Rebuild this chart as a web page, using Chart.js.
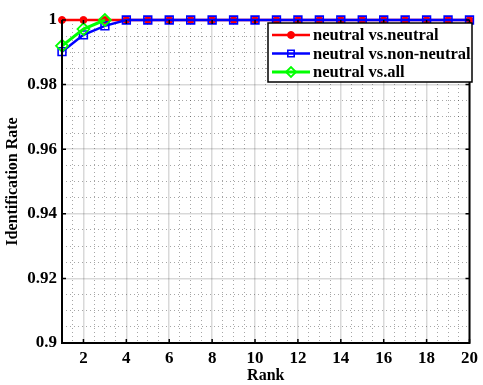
<!DOCTYPE html>
<html>
<head>
<meta charset="utf-8">
<script src="https://cdn.jsdelivr.net/npm/chart.js@4.4.0/dist/chart.umd.min.js"></script>
<style>
  html, body { margin: 0; padding: 0; background: #fff; }
  canvas { display: block; }
</style>
</head>
<body>
<canvas id="chart" width="483" height="385"></canvas>
<script>
// rank axis
const ranks = [1, 2, 3, 4, 5, 6, 7, 8, 9, 10, 11, 12, 13, 14, 15, 16, 17, 18, 19, 20];
const xTicks = [2, 4, 6, 8, 10, 12, 14, 16, 18, 20];
const yTicks = [0.9, 0.92, 0.94, 0.96, 0.98, 1];
const yTickLabels = ['0.9', '0.92', '0.94', '0.96', '0.98', '1'];

// identification rates
const neutralVsNeutral = [1, 1, 1, 1, 1, 1, 1, 1, 1, 1, 1, 1, 1, 1, 1, 1, 1, 1, 1, 1];
const neutralVsNonNeutral = [0.9902, 0.9954, 0.9982, 1, 1, 1, 1, 1, 1, 1, 1, 1, 1, 1, 1, 1, 1, 1, 1, 1];
const neutralVsAll = [0.9920, 0.9972, 1.0];

const seriesLabels = ['neutral vs.neutral', 'neutral vs.non-neutral', 'neutral vs.all'];

const FONT = "'Liberation Serif', 'Times New Roman', serif";

function toPoints(vals) {
    return vals.map((v, i) => ({ x: ranks[i], y: v }));
}

// minor grid positions (MATLAB style, every 0.5 rank / 0.005 rate)
function minorX() {
    let out = [];
    for (let i = 2; i <= 40; i++) {
        let v = i / 2;
        if (xTicks.indexOf(v) < 0) out.push(v);
    }
    return out;
}
function minorY() {
    let out = [];
    for (let i = 181; i < 200; i++) {
        let v = i / 200;
        if (i % 4 != 0) out.push(v);
    }
    return out;
}

// box, inward ticks and the legend inside the plot
const boxPlugin = {
    id: 'boxPlugin',
    afterDraw(chart) {
        const ctx = chart.ctx;
        const a = chart.chartArea;
        const xs = chart.scales.x;
        const ys = chart.scales.y;
        ctx.save();
        ctx.strokeStyle = '#000';
        ctx.lineWidth = 1.5;
        for (let t of xTicks) {
            let px = xs.getPixelForValue(t);
            ctx.beginPath();
            ctx.moveTo(px, a.bottom); ctx.lineTo(px, a.bottom - 4);
            ctx.moveTo(px, a.top); ctx.lineTo(px, a.top + 4);
            ctx.stroke();
        }
        for (let t of yTicks) {
            let py = ys.getPixelForValue(t);
            ctx.beginPath();
            ctx.moveTo(a.left, py); ctx.lineTo(a.left + 4, py);
            ctx.moveTo(a.right, py); ctx.lineTo(a.right - 4, py);
            ctx.stroke();
        }
        ctx.lineWidth = 2;
        ctx.beginPath();
        ctx.moveTo(a.left, a.top);
        ctx.lineTo(a.left, a.bottom);
        ctx.lineTo(a.right, a.bottom);
        ctx.lineTo(a.right, a.top + 2);
        ctx.stroke();

        // legend
        const lx = 268, ly = 23, lw = 204, lh = 59;
        ctx.fillStyle = '#fff';
        ctx.fillRect(lx, ly, lw, lh);
        ctx.lineWidth = 1.5;
        ctx.strokeStyle = '#000';
        ctx.strokeRect(lx, ly, lw, lh);
        ctx.font = 'bold 16.5px ' + FONT;
        ctx.textBaseline = 'middle';
        chart.data.datasets.forEach((ds, i) => {
            let cy = ly + 12 + i * 18.5;
            ctx.strokeStyle = ds.borderColor;
            ctx.lineWidth = ds.borderWidth;
            ctx.beginPath();
            ctx.moveTo(lx + 4, cy);
            ctx.lineTo(lx + 42, cy);
            ctx.stroke();
            ctx.fillStyle = ds.pointBackgroundColor;
            ctx.strokeStyle = ds.borderColor;
            ctx.lineWidth = ds.pointBorderWidth;
            Chart.helpers.drawPoint(ctx, {
                pointStyle: ds.pointStyle,
                radius: ds.pointStyle == 'circle' ? ds.pointRadius : ds.pointRadius - 1,
                borderWidth: ds.pointBorderWidth,
                rotation: 0
            }, lx + 23, cy);
            ctx.fillStyle = '#000';
            ctx.fillText(ds.label, lx + 45, cy + 1);
        });
        ctx.restore();
    }
};

const minorXTicks = minorX();
const minorYTicks = minorY();

const config = {
    type: 'line',
    data: {
        datasets: [
            {
                label: seriesLabels[0],
                data: toPoints(neutralVsNeutral),
                borderColor: '#ff0000',
                backgroundColor: '#ff0000',
                pointBackgroundColor: '#ff0000',
                pointStyle: 'circle',
                pointRadius: 3.5,
                pointBorderWidth: 1,
                borderWidth: 2.5,
                order: 2
            },
            {
                label: seriesLabels[1],
                data: toPoints(neutralVsNonNeutral),
                borderColor: '#0000ff',
                backgroundColor: 'rgba(0,0,0,0)',
                pointBackgroundColor: 'rgba(0,0,0,0)',
                pointStyle: 'rect',
                pointRadius: 5.5,
                pointBorderWidth: 1.6,
                borderWidth: 2.5,
                order: 1
            },
            {
                label: seriesLabels[2],
                data: toPoints(neutralVsAll),
                borderColor: '#00ff00',
                backgroundColor: 'rgba(0,0,0,0)',
                pointBackgroundColor: 'rgba(0,0,0,0)',
                pointStyle: 'rectRot',
                pointRadius: 6,
                pointBorderWidth: 1.8,
                borderWidth: 3,
                order: 0
            }
        ]
    },
    options: {
        responsive: false,
        animation: false,
        clip: false,
        layout: { padding: { left: 0, top: 20, right: 10, bottom: 0 } },
        plugins: {
            legend: { display: false },
            tooltip: { enabled: false }
        },
        elements: { line: { tension: 0 } },
        scales: {
            x2: {
                type: 'linear', position: 'bottom', min: 1, max: 20,
                afterBuildTicks: s => { s.ticks = minorXTicks.map(v => ({ value: v })); },
                afterFit: s => { s.height = 0; },
                ticks: { display: false },
                grid: { color: 'rgba(0,0,0,0.35)', lineWidth: 1, drawTicks: false },
                border: { display: false, dash: [1, 3] }
            },
            y2: {
                type: 'linear', position: 'left', min: 0.9, max: 1,
                afterBuildTicks: s => { s.ticks = minorYTicks.map(v => ({ value: v })); },
                afterFit: s => { s.width = 0; },
                ticks: { display: false },
                grid: { color: 'rgba(0,0,0,0.35)', lineWidth: 1, drawTicks: false },
                border: { display: false, dash: [1, 3] }
            },
            x: {
                type: 'linear', position: 'bottom', min: 1, max: 20,
                afterBuildTicks: s => { s.ticks = xTicks.map(v => ({ value: v })); },
                afterFit: s => { s.height = 42; },
                ticks: {
                    color: '#000', padding: 5, maxRotation: 0,
                    font: { family: FONT, size: 17, weight: 'bold' }
                },
                grid: { color: 'rgba(0,0,0,0.15)', lineWidth: 1.5, drawTicks: false },
                border: { display: false },
                title: {
                    display: true, text: 'Rank', color: '#000', padding: 0,
                    font: { family: FONT, size: 16, weight: 'bold' }
                }
            },
            y: {
                type: 'linear', position: 'left', min: 0.9, max: 1,
                afterBuildTicks: s => { s.ticks = yTicks.map(v => ({ value: v })); },
                afterFit: s => { s.width = 62; },
                ticks: {
                    color: '#000', padding: 5,
                    font: { family: FONT, size: 17, weight: 'bold' },
                    callback: (v) => yTickLabels[yTicks.indexOf(v)]
                },
                grid: { color: 'rgba(0,0,0,0.15)', lineWidth: 1.5, drawTicks: false },
                border: { display: false },
                title: {
                    display: true, text: 'Identification Rate', color: '#000', padding: { top: 3, bottom: 0 },
                    font: { family: FONT, size: 16, weight: 'bold' }
                }
            }
        }
    },
    plugins: [boxPlugin]
};

const myChart = new Chart(document.getElementById('chart'), config);
</script>
</body>
</html>
